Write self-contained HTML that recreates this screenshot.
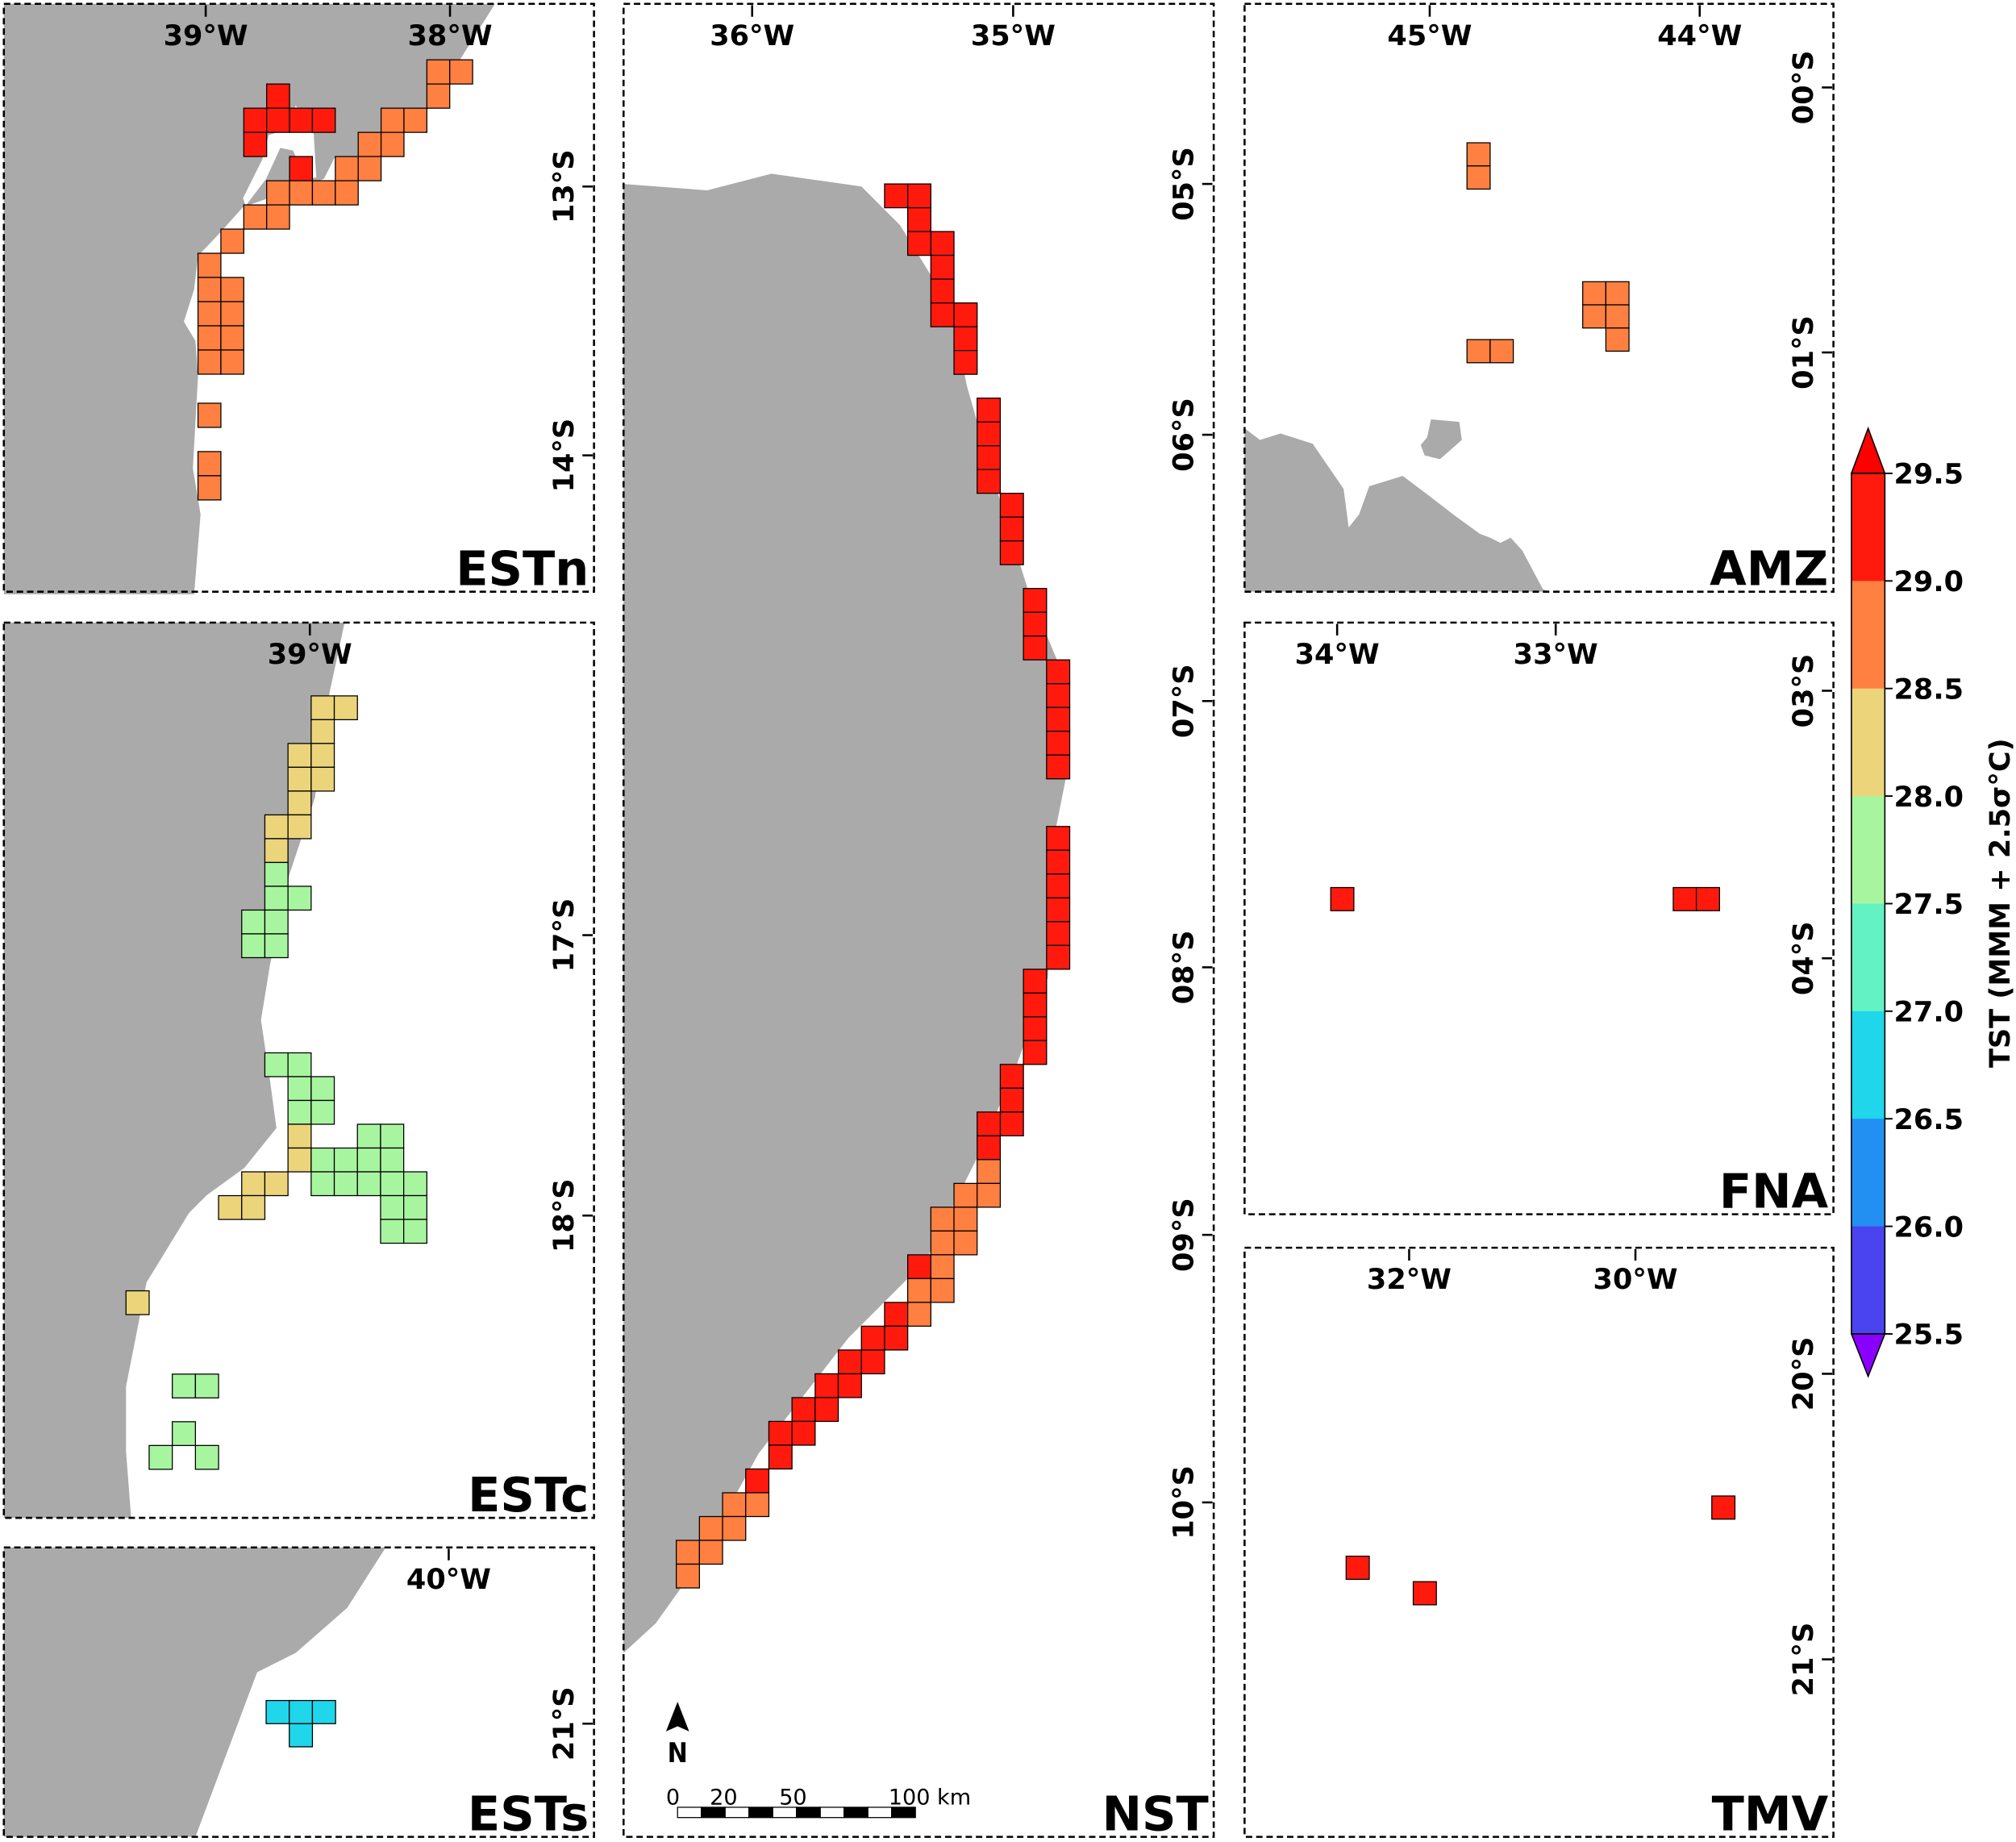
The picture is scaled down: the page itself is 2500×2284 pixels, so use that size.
<!DOCTYPE html>
<html><head><meta charset="utf-8">
<style>
html,body{margin:0;padding:0;background:#fff;}
svg{display:block;}
text{font-family:"DejaVu Sans","Liberation Sans",sans-serif;font-weight:bold;fill:#000;}
</style></head>
<body>
<svg id="fig" width="2500" height="2284" viewBox="0 0 1568 1432" preserveAspectRatio="none" xmlns="http://www.w3.org/2000/svg">
<g id="land" fill="#aaaaaa">
 <polygon points="3,3 385,3 358,46 332,86 296,104 278,123 260,123 252,139 189,161 172,180 154,199 151,225 143,250 152,265 154,293 150,364 156,400 151,462 3,462"/>
 <polygon fill="#ffffff" points="209,105 225,100 230,82 244,104 246,138 237,139 228,117 218,115 207,139 191,160 189,154 204,124"/>
 <polygon points="3,484 268,484 256,540 245,620 225,680 210,750 203,793 210,840 215,877 190,908 161,929 147,943 114,997 98,1078 98,1128 102,1180 3,1180"/>
 <polygon points="3,1203 300,1203 270,1250 230,1285 200,1300 185,1340 170,1380 152,1428 3,1428"/>
 <polygon points="485,143 550,148 600,135 670,145 700,175 740,240 752,300 775,380 800,460 825,520 830,600 820,650 815,760 790,830 760,900 720,980 660,1040 590,1130 540,1220 510,1262 485,1285"/>
 <polygon points="968,333 980,342 996,337 1021,345 1045,380 1049,410 1057,400 1065,378 1091,370 1111,385 1133,402 1151,415 1159,418 1167,422 1175,418 1184,428 1200,458 1205,460 968,460"/>
 <polygon points="1113,326 1135,328 1137,342 1120,357 1108,354 1105,346 1110,340"/>
</g>
<g id="cells"></g>
<g id="frames" fill="none" stroke="#000" stroke-width="1.6" stroke-dasharray="5,3">
 <rect x="3" y="3" width="459" height="457"/>
 <rect x="3" y="484" width="459" height="696"/>
 <rect x="3" y="1203" width="459" height="225"/>
 <rect x="485" y="3" width="459" height="1425"/>
 <rect x="968" y="3" width="458" height="457"/>
 <rect x="968" y="484" width="458" height="460"/>
 <rect x="968" y="970" width="458" height="458"/>
</g>
<g id="labels"></g>
<g id="nst-extras">
 <polygon points="527,1323 518,1346 527,1342 536,1346" fill="#000"/>
 <text x="527" y="1370" font-size="21" text-anchor="middle" style="font-family:'DejaVu Sans Condensed','DejaVu Sans',sans-serif">N</text>
 <g id="scalebar"></g>
 <g style="font-family:'DejaVu Sans Condensed','DejaVu Sans',sans-serif;">
  <text x="518" y="1403" font-size="17" style="font-weight:normal">0</text>
  <text x="552" y="1403" font-size="17" style="font-weight:normal">20</text>
  <text x="606" y="1403" font-size="17" style="font-weight:normal">50</text>
  <text x="691" y="1403" font-size="17" style="font-weight:normal">100 km</text>
 </g>
</g>
<g id="colorbar"></g>
</svg>
<script>
// ---- data ----
const cbTicks = [29.5, 29.0, 28.5, 28.0, 27.5, 27.0, 26.5, 26.0, 25.5];
const cbColors = ["#ff1a0d","#ff8040","#ecd47a","#a8f5a0","#62f2c4","#1fd6ea","#2290f2","#4a44f0"];
// cells per panel: [col,row,value]
const cellsESTn = [[3,1,29.2],[2,2,29.2],[3,2,29.2],[4,2,29.2],[5,2,29.2],[2,3,29.2],[4,4,29.2],
 [10,0,28.8],[11,0,28.8],[10,1,28.8],[8,2,28.8],[9,2,28.8],[7,3,28.8],[8,3,28.8],[6,4,28.8],[7,4,28.8],
 [3,5,28.8],[4,5,28.8],[5,5,28.8],[6,5,28.8],[2,6,28.8],[3,6,28.8],[1,7,28.8],[0,8,28.8],
 [0,9,28.8],[1,9,28.8],[0,10,28.8],[1,10,28.8],[0,11,28.8],[1,11,28.8],[0,12,28.8],[1,12,28.8],
 [0,14.2,28.8],[0,16.2,28.8],[0,17.2,28.8]];
const cellsESTc = [[8,0,28.3],[9,0,28.3],[8,1,28.3],[7,2,28.3],[8,2,28.3],[7,3,28.3],[8,3,28.3],[7,4,28.3],[6,5,28.3],[7,5,28.3],[6,6,28.3],
 [6,7,27.8],[6,8,27.8],[7,8,27.8],[5,9,27.8],[6,9,27.8],[5,10,27.8],[6,10,27.8],
 [6,15,27.8],[7,15,27.8],[7,16,27.8],[8,16,27.8],[7,17,27.8],[8,17,27.8],[7,18,28.3],[10,18,27.8],[11,18,27.8],
 [7,19,28.3],[8,19,27.8],[9,19,27.8],[10,19,27.8],[11,19,27.8],
 [5,20,28.3],[6,20,28.3],[8,20,27.8],[9,20,27.8],[10,20,27.8],[11,20,27.8],[12,20,27.8],
 [4,21,28.3],[5,21,28.3],[11,21,27.8],[12,21,27.8],[11,22,27.8],[12,22,27.8],
 [0,25,28.3],[2,28.5,27.8],[3,28.5,27.8],[2,30.5,27.8],[1,31.5,27.8],[3,31.5,27.8]];
const cellsESTs = [[0,0,26.8],[1,0,26.8],[2,0,26.8],[1,1,26.8]];
const cellsNST = [[9,0,29.2],[10,0,29.2],[10,1,29.2],[10,2,29.2],[11,2,29.2],[11,3,29.2],[11,4,29.2],[11,5,29.2],
 [12,5,29.2],[12,6,29.2],[12,7,29.2],[13,9,29.2],[13,10,29.2],[13,11,29.2],[13,12,29.2],
 [14,13,29.2],[14,14,29.2],[14,15,29.2],[15,17,29.2],[15,18,29.2],[15,19,29.2],
 [16,20,29.2],[16,21,29.2],[16,22,29.2],[16,23,29.2],[16,24,29.2],
 [16,27,29.2],[16,28,29.2],[16,29,29.2],[16,30,29.2],[16,31,29.2],[16,32,29.2],
 [15,33,29.2],[15,34,29.2],[15,35,29.2],[15,36,29.2],[14,37,29.2],[14,38,29.2],[14,39,29.2],[13,39,29.2],[13,40,29.2],
 [13,41,28.8],[12,42,28.8],[13,42,28.8],[11,43,28.8],[12,43,28.8],[11,44,28.8],[12,44,28.8],
 [10,45,29.2],[11,45,28.8],[10,46,28.8],[11,46,28.8],[9,47,29.2],[10,47,28.8],
 [8,48,29.2],[9,48,29.2],[7,49,29.2],[8,49,29.2],[6,50,29.2],[7,50,29.2],[5,51,29.2],[6,51,29.2],
 [4,52,29.2],[5,52,29.2],[4,53,29.2],[3,54,29.2],
 [2,55,28.8],[3,55,28.8],[1,56,28.8],[2,56,28.8],[0,57,28.8],[1,57,28.8],[0,58,28.8]];
const cellsAMZ = [[0,0,28.8],[0,1,28.8],[5,6,28.8],[6,6,28.8],[5,7,28.8],[6,7,28.8],[6,8,28.8],[0,8.5,28.8],[1,8.5,28.8]];
const cellsFNA = [[0,0,29.2],[14.8,0,29.2],[15.8,0,29.2]];
const cellsTMV = [[0,2.6,29.2],[2.9,3.7,29.2],[15.8,0,29.2]];
const lonESTn = ["39°W","38°W"], latESTn = ["13°S","14°S"];
const lonESTc = ["39°W"], latESTc = ["17°S","18°S"];
const lonESTs = ["40°W"], latESTs = ["21°S"];
const lonNST = ["36°W","35°W"], latNST = ["05°S","06°S","07°S","08°S","09°S","10°S"];
const lonAMZ = ["45°W","44°W"], latAMZ = ["00°S","01°S"];
const lonFNA = ["34°W","33°W"], latFNA = ["03°S","04°S"];
const lonTMV = ["32°W","30°W"], latTMV = ["20°S","21°S"];
const scaleSegments = 10;

// ---- layout ----
const NS="http://www.w3.org/2000/svg";
function mk(tag, attrs, parent){const e=document.createElementNS(NS,tag);for(const k in attrs)e.setAttribute(k,attrs[k]);parent.appendChild(e);return e;}
function color(v){const i=Math.floor((29.5-v)/0.5);return cbColors[Math.max(0,Math.min(cbColors.length-1,i))];}
const panels=[
 {name:"ESTn",cells:cellsESTn,ox:154,oy:46.5,cw:17.8,ch:18.8,frame:[3,3,462,460],lon:lonESTn,lonX:[160,350],lat:latESTn,latY:[145,354]},
 {name:"ESTc",cells:cellsESTc,ox:98,oy:541,cw:18,ch:18.5,frame:[3,484,462,1180],lon:lonESTc,lonX:[241],lat:latESTc,latY:[727,945]},
 {name:"ESTs",cells:cellsESTs,ox:207,oy:1322,cw:18,ch:18,frame:[3,1203,462,1428],lon:lonESTs,lonX:[349],lat:latESTs,latY:[1340]},
 {name:"NST",cells:cellsNST,ox:526,oy:143,cw:18,ch:18.5,frame:[485,3,944,1428],lon:lonNST,lonX:[585,788],lat:latNST,latY:[143,338,545,752,960,1168]},
 {name:"AMZ",cells:cellsAMZ,ox:1141,oy:111,cw:18,ch:18,frame:[968,3,1426,460],lon:lonAMZ,lonX:[1112,1322],lat:latAMZ,latY:[68,274]},
 {name:"FNA",cells:cellsFNA,ox:1035,oy:690,cw:18,ch:18,frame:[968,484,1426,944],lon:lonFNA,lonX:[1040,1210],lat:latFNA,latY:[537,745]},
 {name:"TMV",cells:cellsTMV,ox:1047,oy:1163,cw:18,ch:18,frame:[968,970,1426,1428],lon:lonTMV,lonX:[1096,1272],lat:latTMV,latY:[1068,1290]}
];
const gC=document.getElementById('cells'), gL=document.getElementById('labels');
panels.forEach(p=>{
 const xs=c=>p.ox+c*p.cw, ys=r=>p.oy+r*p.ch;
 p.cells.forEach(c=>{
  const r=mk('rect',{x:xs(c[0]),y:ys(c[1]),width:p.cw,height:p.ch,fill:color(c[2]),stroke:'#000','stroke-width':0.8},gC);
  
  
 });
 const [x0,y0,x1,y1]=p.frame;
 p.lon.forEach((t,i)=>{
  const tk=mk('line',{x1:p.lonX[i],x2:p.lonX[i],y1:y0+1,y2:y0+10,stroke:'#000','stroke-width':1.6},gL);
  
  
  const tx=mk('text',{x:p.lonX[i],y:y0+32,'font-size':22,'text-anchor':'middle'},gL);tx.textContent=t;
  
  
 });
 p.lat.forEach((t,i)=>{
  const y=p.latY[i];
  const tk=mk('line',{x1:x1-9,x2:x1-1,y1:y,y2:y,stroke:'#000','stroke-width':1.6},gL);
  
  
  const tx=mk('text',{x:0,y:0,'font-size':22,'text-anchor':'middle',transform:`translate(${x1-16},${y}) rotate(-90)`},gL);tx.textContent=t;
  
  
 });
 const nl=mk('text',{x:x1-4,y:y1-5,'font-size':37,'text-anchor':'end'},gL);nl.textContent=p.name;
 
 
});
// scale bar
const gS=document.getElementById('scalebar');
const sbX=527,sbW=185,sbY=1405,sbH=8;
for(let i=0;i<scaleSegments;i++){
 const r=mk('rect',{x:sbX+i*sbW/scaleSegments,y:sbY,width:sbW/scaleSegments,height:sbH,fill:i%2?'#000':'#fff',stroke:'#000','stroke-width':0.8},gS);
 
 
}
// colorbar
const gB=document.getElementById('colorbar');
const cbX=1440,cbW=26,cbTop=368,cbBot=1037;
const cy=v=>cbTop+(cbTicks[0]-v)/(cbTicks[0]-cbTicks[cbTicks.length-1])*(cbBot-cbTop);
cbColors.forEach((c,i)=>{
 const r=mk('rect',{x:cbX,y:cy(cbTicks[i]),width:cbW,height:cy(cbTicks[i+1])-cy(cbTicks[i])+0.5,fill:c},gB);
 
 
});
const tu=mk('polygon',{points:`${cbX},${cbTop} ${cbX+cbW/2},${cbTop-35} ${cbX+cbW},${cbTop}`,fill:'#ff0000',stroke:'#000','stroke-width':1},gB);


const td=mk('polygon',{points:`${cbX},${cbBot} ${cbX+cbW/2},${cbBot+33} ${cbX+cbW},${cbBot}`,fill:'#8a00ff',stroke:'#000','stroke-width':1},gB);


const ob=mk('rect',{x:cbX,y:cbTop,width:cbW,height:cbBot-cbTop,fill:'none',stroke:'#000','stroke-width':1},gB);


cbTicks.forEach(v=>{
 const tk=mk('line',{x1:cbX+cbW,x2:cbX+cbW+6,y1:cy(v),y2:cy(v),stroke:'#000','stroke-width':1.2},gB);
 
 
 const t=mk('text',{x:cbX+cbW+7,y:cy(v)+8,'font-size':22},gB);t.textContent=v.toFixed(1);
 
 
});
const ct=mk('text',{x:0,y:0,'font-size':22,'text-anchor':'middle',transform:'translate(1563,702) rotate(-90)'},gB);
ct.textContent='TST (MMM + 2.5σ°C)';


</script>
</body></html>
